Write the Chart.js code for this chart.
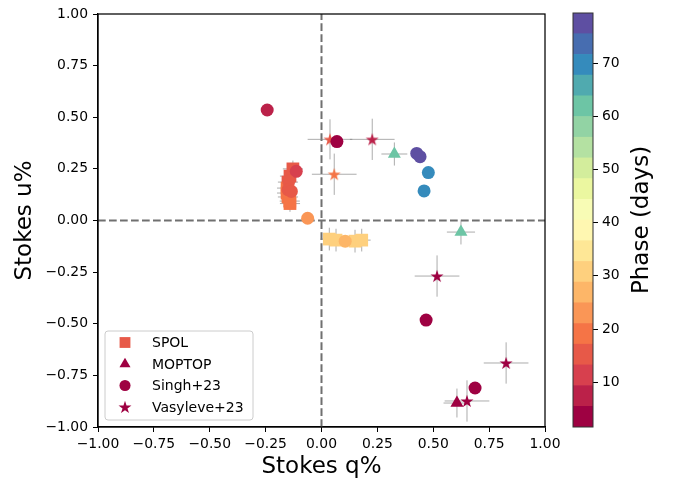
<!DOCTYPE html>
<html>
<head>
<meta charset="utf-8">
<script src="https://cdn.jsdelivr.net/npm/chart.js@4.4.1/dist/chart.umd.min.js"></script>
<style>
  html, body { margin: 0; padding: 0; background: #fff; }
  #wrap { position: relative; width: 680px; height: 481px; }
  #main { position: absolute; left: 0; top: 0; width: 680px; height: 481px; }
  #cbar { position: absolute; left: 540px; top: 0; width: 140px; height: 481px; }
</style>
</head>
<body>
<div id="wrap">
  <div id="main"><canvas id="chart"></canvas></div>
  <div id="cbar"><canvas id="bar"></canvas></div>
</div>
<script>
// values (Stokes q%, u%, errors, phase in days)
const spolQ = [-0.128, -0.141, -0.150, -0.154, -0.154, -0.150, -0.142, -0.141, 0.035, 0.065, 0.150, 0.180];
const spolU = [0.250, 0.215, 0.186, 0.157, 0.133, 0.114, 0.094, 0.082, -0.090, -0.095, -0.100, -0.095];
const spolQerr = [0.045, 0.045, 0.045, 0.045, 0.045, 0.045, 0.045, 0.045, 0.04, 0.04, 0.04, 0.04];
const spolUerr = [0.04, 0.04, 0.04, 0.04, 0.04, 0.04, 0.04, 0.04, 0.055, 0.055, 0.055, 0.055];
const spolPhase = [16, 17, 17, 18, 18, 19, 20, 21, 30, 30.5, 31.5, 32];

const moptopQ = [0.606, 0.326, 0.624];
const moptopU = [-0.884, 0.322, -0.056];
const moptopQerr = [0.06, 0.058, 0.063];
const moptopUerr = [0.07, 0.056, 0.06];
const moptopPhase = [3, 61, 62];

const singhQ = [0.069, -0.243, -0.113, -0.147, -0.150, -0.135, -0.062, 0.106, 0.426, 0.441, 0.478, 0.459, 0.468, 0.687];
const singhU = [0.382, 0.535, 0.238, 0.190, 0.149, 0.141, 0.011, -0.100, 0.325, 0.309, 0.232, 0.143, -0.482, -0.811];
const singhPhase = [3, 7, 11, 15, 15, 16, 23, 27, 78, 78, 70, 70, 3, 3];

const vasQ = [0.517, 0.038, 0.227, 0.057, 0.826, 0.651];
const vasU = [-0.269, 0.393, 0.393, 0.224, -0.690, -0.874];
const vasQerr = [0.1, 0.1, 0.1, 0.1, 0.1, 0.1];
const vasUerr = [0.1, 0.097, 0.1, 0.1, 0.1, 0.1];
const vasPhase = [3, 15, 7, 19, 3, 3];

const qTicks = [-1, -0.75, -0.5, -0.25, 0, 0.25, 0.5, 0.75, 1];
const uTicks = [-1, -0.75, -0.5, -0.25, 0, 0.25, 0.5, 0.75, 1];
const cbTicks = [10, 20, 30, 40, 50, 60, 70];
const phaseMin = 1.6;
const phaseMax = 79.4;
const nBins = 20;

Chart.defaults.font.family = '"DejaVu Sans"';
Chart.defaults.color = '#000';

// matplotlib Spectral
const spectralStops = ['#9e0142', '#d53e4f', '#f46d43', '#fdae61', '#fee08b', '#ffffbf',
  '#e6f598', '#abdda4', '#66c2a5', '#3288bd', '#5e4fa2'];
function hexRgb(h) {
  return [parseInt(h.slice(1, 3), 16), parseInt(h.slice(3, 5), 16), parseInt(h.slice(5, 7), 16)];
}
function spectral(t) {
  const s = Math.max(0, Math.min(1, t)) * 10;
  const i = Math.min(9, Math.floor(s));
  const f = s - i;
  const a = hexRgb(spectralStops[i]), b = hexRgb(spectralStops[i + 1]);
  const c = a.map((v, k) => Math.round(v + (b[k] - v) * f));
  return 'rgb(' + c.join(',') + ')';
}
function phaseColor(p) {
  let bin = Math.floor((p - phaseMin) / (phaseMax - phaseMin) * nBins);
  bin = Math.max(0, Math.min(nBins - 1, bin));
  return spectral(bin / (nBins - 1));
}

const starCache = {};
function starImg(color) {
  if (starCache[color]) return starCache[color];
  const c = document.createElement('canvas');
  c.width = 16; c.height = 16;
  const g = c.getContext('2d');
  g.fillStyle = color;
  g.beginPath();
  for (let k = 0; k < 10; k++) {
    const r = k % 2 ? 2.6 : 6.8;
    const a = -Math.PI / 2 + k * Math.PI / 5;
    const px = 8 + r * Math.cos(a), py = 8.6 + r * Math.sin(a);
    if (k) g.lineTo(px, py); else g.moveTo(px, py);
  }
  g.closePath();
  g.fill();
  starCache[color] = c;
  return c;
}

function pts(q, u) { return q.map((v, i) => ({ x: v, y: u[i] })); }
function fmt(v) { return (v < 0 ? '\u2212' : '') + Math.abs(v).toFixed(2); }

const datasets = [
  {
    label: 'SPOL', data: pts(spolQ, spolU), xErr: spolQerr, yErr: spolUerr,
    pointStyle: 'rect', pointRadius: 9, order: 4,
    pointBackgroundColor: spolPhase.map(phaseColor)
  },
  {
    label: 'MOPTOP', data: pts(moptopQ, moptopU), xErr: moptopQerr, yErr: moptopUerr,
    pointStyle: 'triangle', pointRadius: 7.5, order: 3,
    pointBackgroundColor: moptopPhase.map(phaseColor)
  },
  {
    label: 'Singh+23', data: pts(singhQ, singhU),
    pointStyle: 'circle', pointRadius: 6.5, order: 1,
    pointBackgroundColor: singhPhase.map(phaseColor)
  },
  {
    label: 'Vasyleve+23', data: pts(vasQ, vasU), xErr: vasQerr, yErr: vasUerr,
    pointStyle: vasPhase.map(p => starImg(phaseColor(p))), pointRadius: 7, order: 2,
    pointBackgroundColor: vasPhase.map(phaseColor)
  }
];
datasets.forEach(d => { d.pointBorderWidth = 0; d.showLine = false; });

const errorBars = {
  id: 'errorBars',
  beforeDatasetsDraw(chart) {
    const { ctx, chartArea: a, scales: { x, y } } = chart;
    ctx.save();
    ctx.beginPath();
    ctx.rect(a.left, a.top, a.right - a.left, a.bottom - a.top);
    ctx.clip();
    // zero lines
    ctx.strokeStyle = '#707070';
    ctx.lineWidth = 2;
    ctx.setLineDash([7.7, 3.3]);
    ctx.beginPath();
    ctx.moveTo(x.getPixelForValue(0), a.bottom);
    ctx.lineTo(x.getPixelForValue(0), a.top);
    ctx.moveTo(a.left, y.getPixelForValue(0));
    ctx.lineTo(a.right, y.getPixelForValue(0));
    ctx.stroke();
    ctx.setLineDash([]);
    // error bars
    ctx.strokeStyle = 'rgba(128,128,128,0.65)';
    ctx.lineWidth = 1;
    chart.data.datasets.forEach(ds => {
      if (!ds.xErr) return;
      ds.data.forEach((p, i) => {
        const px = x.getPixelForValue(p.x), py = y.getPixelForValue(p.y);
        ctx.beginPath();
        ctx.moveTo(x.getPixelForValue(p.x - ds.xErr[i]), py);
        ctx.lineTo(x.getPixelForValue(p.x + ds.xErr[i]), py);
        ctx.moveTo(px, y.getPixelForValue(p.y - ds.yErr[i]));
        ctx.lineTo(px, y.getPixelForValue(p.y + ds.yErr[i]));
        ctx.stroke();
      });
    });
    ctx.restore();
  },
  afterDraw(chart) {
    const { ctx, chartArea: a } = chart;
    ctx.save();
    ctx.strokeStyle = '#000';
    ctx.lineWidth = 1.25;
    ctx.strokeRect(a.left, a.top, a.right - a.left, a.bottom - a.top);

    // legend box
    const bx = 105, by = 331, bw = 148, bh = 89;
    ctx.fillStyle = 'rgba(255,255,255,0.8)';
    ctx.strokeStyle = '#cccccc';
    ctx.lineWidth = 1;
    ctx.beginPath();
    ctx.roundRect(bx, by, bw, bh, 3);
    ctx.fill();
    ctx.stroke();
    const order = ['SPOL', 'MOPTOP', 'Singh+23', 'Vasyleve+23'];
    ctx.font = '14px "DejaVu Sans"';
    ctx.textBaseline = 'middle';
    ctx.textAlign = 'left';
    order.forEach((name, k) => {
      const ds = chart.data.datasets.find(d => d.label === name);
      const ry = by + 11.5 + k * 21.5;
      const style = Array.isArray(ds.pointStyle) ? ds.pointStyle[0] : ds.pointStyle;
      ctx.fillStyle = ds.pointBackgroundColor[0];
      Chart.helpers.drawPoint(ctx, { pointStyle: style, radius: ds.pointRadius * 0.85, rotation: 0, borderWidth: 0 }, 125, ry);
      ctx.fillStyle = '#000';
      ctx.fillText(name, 152, ry + 1);
    });
    ctx.restore();
  }
};

new Chart('chart', {
  type: 'scatter',
  data: { datasets: datasets },
  options: {
    responsive: true,
    maintainAspectRatio: false,
    animation: false,
    events: [],
    layout: { padding: { left: 0, right: 135, top: 14, bottom: 0 } },
    plugins: { legend: { display: false }, tooltip: { enabled: false } },
    scales: {
      x: {
        type: 'linear', min: -1, max: 1,
        afterBuildTicks: s => { s.ticks = qTicks.map(v => ({ value: v })); },
        afterFit: s => { s.height = 54; },
        ticks: { callback: fmt, font: { size: 13.9 }, padding: 4, maxRotation: 0, autoSkip: false },
        grid: { drawOnChartArea: false, tickLength: 5, color: '#000' },
        border: { display: true, color: '#000', width: 1.25 },
        title: { display: true, text: 'Stokes q%', font: { size: 23 }, padding: 0 }
      },
      y: {
        type: 'linear', min: -1, max: 1,
        afterBuildTicks: s => { s.ticks = uTicks.map(v => ({ value: v })); },
        afterFit: s => { s.width = 98; },
        ticks: { callback: fmt, font: { size: 13.9 }, padding: 5, autoSkip: false },
        grid: { drawOnChartArea: false, tickLength: 5, color: '#000' },
        border: { display: true, color: '#000', width: 1.25 },
        title: { display: true, text: 'Stokes u%', font: { size: 23 }, padding: { top: 11, bottom: 0 } }
      }
    }
  },
  plugins: [errorBars]
});

// colour bar
const binStep = (phaseMax - phaseMin) / nBins;
const cbDatasets = [];
for (let i = 0; i < nBins; i++) {
  cbDatasets.push({
    data: [[phaseMin + i * binStep, phaseMin + (i + 1) * binStep]],
    backgroundColor: spectral(i / (nBins - 1)),
    borderWidth: 0,
    grouped: false,
    barPercentage: 1,
    categoryPercentage: 1
  });
}

const cbFrame = {
  id: 'cbFrame',
  afterDraw(chart) {
    const { ctx, chartArea: a } = chart;
    ctx.save();
    ctx.strokeStyle = '#333';
    ctx.lineWidth = 1;
    ctx.strokeRect(a.left, a.top, a.right - a.left, a.bottom - a.top);
    ctx.translate(a.right + 49, (a.top + a.bottom) / 2);
    ctx.rotate(-Math.PI / 2);
    ctx.font = '23px "DejaVu Sans"';
    ctx.textAlign = 'center';
    ctx.textBaseline = 'middle';
    ctx.fillStyle = '#000';
    ctx.fillText('Phase (days)', 0, 0);
    ctx.restore();
  }
};

new Chart('bar', {
  type: 'bar',
  data: { labels: [''], datasets: cbDatasets },
  options: {
    responsive: true,
    maintainAspectRatio: false,
    animation: false,
    events: [],
    layout: { padding: { left: 33, top: 13, right: 0, bottom: 54 } },
    plugins: { legend: { display: false }, tooltip: { enabled: false } },
    scales: {
      x: { display: false },
      y: {
        type: 'linear', position: 'right', min: phaseMin, max: phaseMax,
        afterBuildTicks: s => { s.ticks = cbTicks.map(v => ({ value: v })); },
        afterFit: s => { s.width = 87; },
        ticks: { font: { size: 13.9 }, padding: 4 },
        grid: { drawOnChartArea: false, tickLength: 5, color: '#000' },
        border: { display: false }
      }
    }
  },
  plugins: [cbFrame]
});
</script>
</body>
</html>
